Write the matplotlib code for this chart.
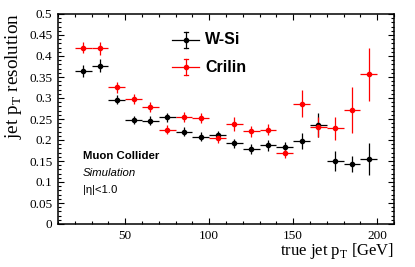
import numpy as np
import matplotlib
matplotlib.use('Agg')
import matplotlib.pyplot as plt
from matplotlib.ticker import MultipleLocator
from matplotlib.lines import Line2D

# bin centres (10 GeV bins)
pt = [25, 35, 45, 55, 65, 75, 85, 95, 105, 115, 125, 135, 145, 155, 165, 175, 185, 195]
pt_err = [5] * 18

wsi = [0.364, 0.377, 0.296, 0.247, 0.246, 0.254, 0.220, 0.208, 0.211, 0.192, 0.179, 0.187, 0.183, 0.197, 0.236, 0.151, 0.143, 0.154]
wsi_err = [0.015, 0.015, 0.010, 0.010, 0.010, 0.010, 0.010, 0.010, 0.010, 0.010, 0.012, 0.012, 0.012, 0.019, 0.028, 0.024, 0.019, 0.038]

crilin = [0.420, 0.418, 0.326, 0.297, 0.279, 0.225, 0.254, 0.252, 0.204, 0.238, 0.221, 0.225, 0.168, 0.286, 0.230, 0.228, 0.271, 0.356]
crilin_err = [0.014, 0.016, 0.013, 0.012, 0.012, 0.010, 0.012, 0.012, 0.010, 0.016, 0.013, 0.012, 0.012, 0.032, 0.024, 0.027, 0.054, 0.063]

ytick_vals = [0, 0.05, 0.1, 0.15, 0.2, 0.25, 0.3, 0.35, 0.4, 0.45, 0.5]
ytick_labels = ['0', '0.05', '0.1', '0.15', '0.2', '0.25', '0.3', '0.35', '0.4', '0.45', '0.5']

plt.rcParams['font.family'] = 'Liberation Serif'
plt.rcParams['mathtext.fontset'] = 'custom'
plt.rcParams['mathtext.rm'] = 'Liberation Serif'

fig = plt.figure(figsize=(4.15, 2.67), dpi=100)
ax = fig.add_axes([58/415, 43/267, 336/415, 210/267])

ax.errorbar(pt, wsi, xerr=pt_err, yerr=wsi_err, fmt='o', ms=3, color='black',
            elinewidth=0.9, capsize=0)
ax.errorbar(pt, crilin, xerr=pt_err, yerr=crilin_err, fmt='o', ms=3, color='red',
            elinewidth=0.9, capsize=0)

ax.set_xlim(10, 210)
ax.set_ylim(0, 0.5)
ax.xaxis.set_major_locator(MultipleLocator(50))
ax.xaxis.set_minor_locator(MultipleLocator(10))
ax.set_yticks(ytick_vals)
ax.set_yticklabels(ytick_labels)
ax.yaxis.set_minor_locator(MultipleLocator(0.01))
ax.tick_params(which='both', direction='in', top=True, right=True, labelsize=9.5, width=0.8)
ax.tick_params(axis='x', pad=4)
ax.tick_params(axis='y', pad=4)
ax.tick_params(which='major', length=4.5)
ax.tick_params(which='minor', length=2.3)
for s in ax.spines.values():
    s.set_linewidth(1.1)

fig.text(394/415, 1 - 255/267, 'true jet p$_\\mathregular{T}$ [GeV]', ha='right', va='baseline', fontsize=12)
fig.text(14/415, 1 - 13/267, 'jet p$_\\mathregular{T}$ resolution', ha='center', va='top', rotation=90, fontsize=13.8)

# legend
for yy, col, lab in [(40, 'black', 'W-Si'), (67, 'red', 'Crilin')]:
    yc = 1 - yy/267
    fig.add_artist(Line2D([172/415, 199/415], [yc, yc], color=col, lw=0.9))
    fig.add_artist(Line2D([185.5/415, 185.5/415], [yc - 8/267, yc + 8/267], color=col, lw=0.9))
    fig.add_artist(Line2D([183.5/415, 187.5/415], [yc - 8/267, yc - 8/267], color=col, lw=0.9))
    fig.add_artist(Line2D([183.5/415, 187.5/415], [yc + 8/267, yc + 8/267], color=col, lw=0.9))
    fig.add_artist(Line2D([185.5/415], [yc], marker='o', ms=3, color=col))
    fig.text(205/415, yc, lab, ha='left', va='center', fontsize=11.5, fontweight='bold', family='Liberation Sans')

fig.text(83/415, 1 - 156/267, 'Muon Collider', ha='left', va='center', fontsize=8.2, fontweight='bold', family='Liberation Sans')
fig.text(83/415, 1 - 173/267, 'Simulation', ha='left', va='center', fontsize=8.2, style='italic', family='Liberation Sans')
fig.text(83/415, 1 - 190/267, '|η|<1.0', ha='left', va='center', fontsize=8.2, family=['Liberation Sans', 'DejaVu Sans'])

fig.savefig('out.png', dpi=100)
